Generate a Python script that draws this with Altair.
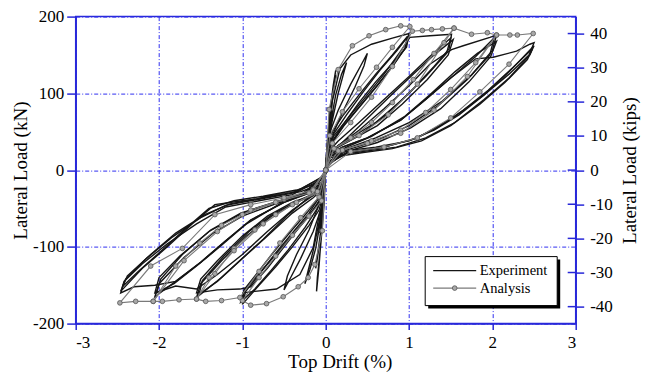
import altair as alt
import pandas as pd

KN_PER_KIP = 4.448
BLUE = "#2828D8"
GRID = "#3030F0"
FONT = "Liberation Serif"

x_ticks = [-3, -2, -1, 0, 1, 2, 3]
kn_ticks = [-200, -150, -100, -50, 0, 50, 100, 150, 200]
kip_ticks = [-40, -30, -20, -10, 0, 10, 20, 30, 40]

# ---------------- Experiment cycles (drift %, load kN) ----------------
e0_d = [0, 0.02, 0.04, 0.06, 0.04, 0.02, 0.0, -0.02, -0.04, -0.06, -0.04, -0.02, 0.0]
e0_l = [0, 22, 45, 62, 48, 26, 4, -24, -46, -64, -50, -26, 0]

e00_d = [0, 0.015, 0.035, 0.07, 0.05, 0.025, 0.0, -0.015, -0.035, -0.07, -0.05, -0.025, 0.0]
e00_l = [0, 18, 40, 78, 60, 30, 6, -20, -42, -82, -62, -30, 0]

e1_d = [0, 0.02, 0.05, 0.08, 0.11, 0.12, 0.10, 0.06, 0.03, 0.0, -0.02, -0.05, -0.08, -0.11, -0.12, -0.10, -0.06, -0.03, 0.0]
e1_l = [0, 28, 62, 95, 118, 124, 110, 78, 45, 8, -30, -66, -100, -122, -128, -112, -80, -44, 0]

e2_d = [0, 0.02, 0.05, 0.09, 0.12, 0.10, 0.06, 0.02, 0.0, -0.02, -0.05, -0.08, -0.11, -0.10, -0.06, -0.02, 0.0]
e2_l = [0, 35, 75, 110, 130, 115, 82, 38, 5, -35, -82, -125, -158, -140, -98, -45, 0]

e3_d = [0, 0.02, 0.06, 0.12, 0.19, 0.25, 0.22, 0.15, 0.08, 0.03, 0.0, -0.02, -0.06, -0.12, -0.19, -0.25, -0.22, -0.15, -0.08, -0.03, 0.0]
e3_l = [0, 28, 62, 98, 125, 140, 128, 100, 65, 35, 5, -28, -65, -102, -130, -148, -135, -105, -68, -36, 0]

e4_d = [0, 0.02, 0.06, 0.15, 0.3, 0.42, 0.5, 0.46, 0.35, 0.2, 0.08, 0.02, 0, -0.02, -0.06, -0.15, -0.3, -0.42, -0.5, -0.46, -0.35, -0.2, -0.08, -0.02, 0]
e4_l = [0, 25, 52, 78, 112, 136, 152, 136, 108, 75, 45, 20, 0, -25, -52, -80, -115, -140, -156, -138, -110, -78, -45, -20, 0]

e5_d = [0, 0.03, 0.08, 0.17, 0.3, 0.55, 0.8, 1.0, 0.97, 0.85, 0.6, 0.4, 0.2, 0.08, 0.02, 0, -0.03, -0.07, -0.15, -0.31, -0.59, -0.85, -0.99, -1.0, -0.97, -0.8, -0.6, -0.4, -0.2, -0.08, -0.02, 0]
e5_l = [0, 40, 90, 132, 150, 164, 172, 178, 160, 145, 115, 88, 58, 38, 15, 0, -45, -54, -101, -136, -155, -158, -160, -172, -155, -135, -110, -85, -60, -40, -15, 0]

e6_d = [0, 0.03, 0.08, 0.2, 0.4, 0.6, 0.8, 0.98, 0.95, 0.8, 0.6, 0.4, 0.2, 0.08, 0.02, 0, -0.03, -0.08, -0.2, -0.4, -0.6, -0.8, -1.0, -0.96, -0.8, -0.6, -0.4, -0.2, -0.08, -0.02, 0]
e6_l = [0, 32, 50, 70, 98, 125, 150, 174, 158, 135, 108, 82, 56, 36, 12, 0, -34, -52, -72, -100, -126, -150, -175, -158, -136, -108, -82, -56, -36, -12, 0]

e7_d = [0, 0.03, 0.1, 0.25, 0.45, 0.65, 0.85, 1.0, 0.96, 0.82, 0.62, 0.42, 0.22, 0.08, 0.02, 0, -0.03, -0.1, -0.25, -0.45, -0.65, -0.85, -1.02, -0.98, -0.82, -0.62, -0.42, -0.22, -0.08, -0.02, 0]
e7_l = [0, 28, 48, 72, 102, 130, 155, 176, 160, 138, 110, 84, 58, 36, 10, 0, -30, -50, -75, -104, -130, -155, -172, -156, -134, -106, -80, -55, -35, -10, 0]

e8_d = [0, 0.03, 0.1, 0.3, 0.5, 0.7, 0.9, 1.01, 1.25, 1.51, 1.48, 1.3, 1.0, 0.7, 0.4, 0.15, 0.03, 0, -0.03, -0.1, -0.3, -0.5, -0.7, -0.9, -1.03, -1.3, -1.55, -1.5, -1.3, -1.0, -0.7, -0.4, -0.15, -0.03, 0]
e8_l = [0, 28, 45, 72, 98, 125, 155, 173, 175, 177, 158, 135, 100, 70, 45, 32, 15, 0, -30, -45, -72, -100, -128, -152, -155, -156, -160, -142, -118, -86, -60, -42, -32, -15, 0]

e9_d = [0, 0.04, 0.15, 0.4, 0.7, 1.0, 1.25, 1.5, 1.45, 1.2, 0.9, 0.6, 0.3, 0.1, 0.02, 0, -0.04, -0.15, -0.4, -0.7, -1.0, -1.25, -1.55, -1.5, -1.25, -0.95, -0.65, -0.35, -0.1, -0.02, 0]
e9_l = [0, 25, 38, 62, 92, 122, 148, 172, 152, 122, 90, 62, 42, 28, 10, 0, -25, -36, -56, -86, -115, -140, -166, -148, -118, -86, -60, -42, -30, -10, 0]

e10_d = [0, 0.04, 0.2, 0.45, 0.75, 1.05, 1.3, 1.53, 1.47, 1.22, 0.92, 0.62, 0.32, 0.1, 0.02, 0, -0.04, -0.2, -0.45, -0.75, -1.05, -1.3, -1.52, -1.48, -1.22, -0.92, -0.62, -0.32, -0.1, -0.02, 0]
e10_l = [0, 22, 36, 62, 94, 125, 150, 170, 150, 118, 86, 58, 40, 27, 8, 0, -22, -35, -58, -90, -120, -145, -162, -144, -112, -80, -56, -40, -28, -8, 0]

e11_d = [0, 0.04, 0.15, 0.4, 0.7, 1.0, 1.25, 1.51, 1.65, 1.97, 2.05, 2.0, 1.75, 1.4, 1.0, 0.6, 0.25, 0.05, 0, -0.04, -0.15, -0.4, -0.7, -1.0, -1.3, -1.55, -1.8, -2.05, -2.0, -1.75, -1.4, -1.0, -0.6, -0.25, -0.05, 0]
e11_l = [0, 22, 32, 52, 80, 110, 138, 157, 162, 173, 176, 156, 124, 90, 62, 42, 28, 12, 0, -22, -33, -52, -80, -110, -136, -155, -151, -160, -140, -112, -80, -56, -42, -30, -12, 0]

e12_d = [0, 0.05, 0.2, 0.5, 0.9, 1.2, 1.5, 1.8, 2.02, 1.97, 1.7, 1.35, 1.0, 0.6, 0.25, 0.05, 0, -0.05, -0.2, -0.5, -0.9, -1.2, -1.5, -1.8, -2.05, -2.0, -1.7, -1.35, -1.0, -0.6, -0.25, -0.05, 0]
e12_l = [0, 20, 30, 42, 65, 92, 120, 148, 172, 150, 118, 84, 58, 38, 26, 10, 0, -20, -30, -42, -65, -92, -120, -145, -165, -148, -114, -82, -60, -44, -32, -12, 0]

e13_d = [0, 0.05, 0.25, 0.55, 0.95, 1.25, 1.55, 1.82, 2.05, 1.98, 1.72, 1.38, 1.02, 0.62, 0.28, 0.05, 0, -0.05, -0.25, -0.55, -0.95, -1.25, -1.55, -1.82, -2.03, -1.98, -1.72, -1.38, -1.02, -0.62, -0.28, -0.05, 0]
e13_l = [0, 18, 30, 44, 70, 98, 128, 152, 168, 148, 115, 80, 55, 36, 25, 9, 0, -18, -30, -44, -70, -98, -125, -148, -160, -142, -110, -78, -56, -42, -31, -10, 0]

e14_d = [0, 0.05, 0.2, 0.5, 0.9, 1.2, 1.5, 1.8, 2.01, 2.29, 2.45, 2.5, 2.44, 2.2, 1.9, 1.5, 1.1, 0.7, 0.3, 0.05, 0, -0.05, -0.2, -0.5, -0.9, -1.2, -1.5, -1.8, -2.05, -2.3, -2.46, -2.42, -2.2, -1.9, -1.55, -1.2, -0.8, -0.4, -0.05, 0]
e14_l = [0, 20, 30, 42, 65, 92, 120, 145, 147, 155, 164, 166, 150, 125, 98, 66, 42, 30, 24, 10, 0, -20, -30, -42, -65, -92, -120, -145, -150, -152, -160, -145, -122, -96, -70, -48, -40, -32, -12, 0]

e15_d = [0, 0.05, 0.3, 0.6, 1.0, 1.3, 1.6, 1.9, 2.2, 2.5, 2.45, 2.2, 1.9, 1.55, 1.2, 0.85, 0.5, 0.2, 0.05, 0, -0.05, -0.3, -0.7, -1.0, -1.33, -1.6, -1.9, -2.2, -2.46, -2.4, -2.15, -1.85, -1.5, -1.2, -0.8, -0.4, -0.05, 0]
e15_l = [0, 18, 26, 30, 38, 52, 72, 98, 128, 162, 150, 120, 92, 62, 42, 30, 25, 20, 8, 0, -18, -28, -36, -40, -45, -70, -100, -128, -158, -142, -115, -88, -62, -46, -38, -30, -10, 0]

e16_d = [0, 0.05, 0.35, 0.7, 1.05, 1.35, 1.65, 1.95, 2.25, 2.48, 2.42, 2.15, 1.85, 1.5, 1.15, 0.8, 0.45, 0.15, 0.04, 0, -0.05, -0.35, -0.75, -1.1, -1.4, -1.7, -2.0, -2.25, -2.44, -2.38, -2.1, -1.8, -1.45, -1.15, -0.75, -0.35, -0.05, 0]
e16_l = [0, 16, 24, 30, 40, 56, 78, 104, 134, 158, 144, 114, 86, 58, 38, 28, 23, 18, 7, 0, -16, -26, -34, -40, -50, -78, -108, -132, -152, -138, -110, -82, -58, -44, -36, -28, -9, 0]

# ---------------- Analysis cycles (drift %, load kN) ----------------
a1_d = [0, 0.04, 0.15, 0.32, 0.52, 0.72, 0.9, 1.01, 0.8, 0.61, 0.4, 0.2, 0.05, 0, -0.04, -0.13, -0.21, -0.33, -0.51, -0.71, -0.9, -1.0, -0.8, -0.6, -0.4, -0.2, -0.05, 0]
a1_l = [0, 79, 131, 162, 175, 183, 188, 187, 160, 134, 106, 76, 45, 0, -79, -123, -140, -152, -165, -174, -176, -170, -140, -112, -85, -60, -40, 0]

a2_d = [0, 0.08, 0.3, 0.55, 0.8, 1.04, 1.16, 1.27, 1.4, 1.54, 1.3, 1.05, 0.8, 0.55, 0.3, 0.1, 0, -0.08, -0.3, -0.55, -0.8, -1.03, -1.25, -1.44, -1.55, -1.33, -1.1, -0.85, -0.6, -0.35, -0.1, 0]
a2_l = [0, 35, 62, 95, 135, 181, 182, 183, 184, 185, 152, 118, 88, 62, 42, 28, 0, -35, -62, -95, -132, -166, -170, -171, -168, -135, -102, -78, -58, -42, -30, 0]

a3_d = [0, 0.1, 0.4, 0.75, 1.1, 1.42, 1.54, 1.75, 1.94, 2.05, 1.8, 1.5, 1.2, 0.9, 0.55, 0.2, 0, -0.1, -0.4, -0.75, -1.1, -1.4, -1.55, -1.76, -1.96, -2.07, -1.8, -1.51, -1.25, -1.0, -0.6, -0.2, 0]
a3_l = [0, 28, 45, 72, 112, 166, 185, 177, 179, 176, 140, 105, 75, 52, 38, 26, 0, -28, -45, -70, -105, -140, -168, -169, -171, -171, -125, -95, -72, -58, -42, -30, 0]

a4_d = [0, 0.15, 0.5, 0.9, 1.3, 1.7, 2.05, 2.21, 2.3, 2.49, 2.2, 1.85, 1.5, 1.1, 0.7, 0.3, 0, -0.15, -0.5, -0.9, -1.3, -1.7, -2.07, -2.28, -2.47, -2.1, -1.72, -1.33, -0.9, -0.5, -0.15, 0]
a4_l = [0, 25, 35, 48, 78, 122, 176, 176, 176, 178, 138, 102, 68, 42, 30, 24, 0, -25, -38, -52, -80, -118, -171, -171, -173, -125, -102, -58, -45, -36, -26, 0]

exp_cycles = [
    ("e0", e0_d, e0_l), ("e00", e00_d, e00_l),
    ("e1", e1_d, e1_l), ("e2", e2_d, e2_l), ("e3", e3_d, e3_l), ("e4", e4_d, e4_l),
    ("e5", e5_d, e5_l), ("e6", e6_d, e6_l), ("e7", e7_d, e7_l), ("e8", e8_d, e8_l),
    ("e9", e9_d, e9_l), ("e10", e10_d, e10_l), ("e11", e11_d, e11_l), ("e12", e12_d, e12_l),
    ("e13", e13_d, e13_l), ("e14", e14_d, e14_l), ("e15", e15_d, e15_l), ("e16", e16_d, e16_l),
]
ana_cycles = [("a1", a1_d, a1_l), ("a2", a2_d, a2_l), ("a3", a3_d, a3_l), ("a4", a4_d, a4_l)]


def to_frame(cycles):
    rows = []
    for name, d, l in cycles:
        for i, (x, y) in enumerate(zip(d, l)):
            rows.append({"cycle": name, "i": i, "drift": x, "load": y})
    return pd.DataFrame(rows)


exp_df = to_frame(exp_cycles)
ana_df = to_frame(ana_cycles)
kips_df = pd.DataFrame({"kips": kip_ticks})

W, H = 500, 307
LBL = "'' + datum.value"

x_enc = alt.X("drift:Q", scale=alt.Scale(domain=[-3, 3], nice=False, zero=False),
              axis=alt.Axis(values=x_ticks, title="Top Drift (%)", tickSize=6, labelPadding=5,
                            titlePadding=2, titleX=264, labelExpr=LBL))
y_enc = alt.Y("load:Q", scale=alt.Scale(domain=[-200, 200], nice=False),
              axis=alt.Axis(values=kn_ticks, title="Lateral Load (kN)", tickSize=9, labelPadding=3,
                            titlePadding=2, labelExpr=LBL))

exp_layer = alt.Chart(exp_df).mark_line(color="#151515", strokeWidth=1.4).encode(
    x=x_enc, y=y_enc, detail="cycle:N", order="i:Q")

ana_line = alt.Chart(ana_df).mark_line(color="#7a7a7a", strokeWidth=1.1).encode(
    x=alt.X("drift:Q"), y=alt.Y("load:Q"), detail="cycle:N", order="i:Q")

ana_pts = alt.Chart(ana_df).mark_point(shape="circle", filled=True, fill="#a8a8a8", stroke="#555555",
                                       strokeWidth=0.8, size=22, opacity=1).encode(
    x=alt.X("drift:Q"), y=alt.Y("load:Q"))

one = alt.Data(values=[{"k": 0}])
leg_shadow = alt.Chart(one).mark_rect(color="black").encode(
    x=alt.value(352.5), x2=alt.value(484.5), y=alt.value(243), y2=alt.value(292))
leg_box = alt.Chart(one).mark_rect(fill="white", stroke="black", strokeWidth=1).encode(
    x=alt.value(349.5), x2=alt.value(481.5), y=alt.value(240), y2=alt.value(289))
leg_exp_line = alt.Chart(one).mark_rule(color="#151515", strokeWidth=1.3).encode(
    x=alt.value(357.5), x2=alt.value(400.5), y=alt.value(254))
leg_ana_line = alt.Chart(one).mark_rule(color="#7a7a7a", strokeWidth=1.1).encode(
    x=alt.value(357.5), x2=alt.value(400.5), y=alt.value(271.5))
leg_ana_pt = alt.Chart(one).mark_point(shape="circle", filled=True, fill="#a8a8a8", stroke="#555555",
                                       strokeWidth=0.8, size=22, opacity=1).encode(
    x=alt.value(379), y=alt.value(271.5))
leg_exp_txt = alt.Chart(one).mark_text(font=FONT, fontSize=14.5, align="left", baseline="middle",
                                       color="black").encode(
    x=alt.value(404), y=alt.value(254.5), text=alt.value("Experiment"))
leg_ana_txt = alt.Chart(one).mark_text(font=FONT, fontSize=14.5, align="left", baseline="middle",
                                       color="black").encode(
    x=alt.value(404), y=alt.value(272), text=alt.value("Analysis"))

base = alt.layer(exp_layer, ana_line, ana_pts, leg_shadow, leg_box, leg_exp_line, leg_ana_line,
                 leg_ana_pt, leg_exp_txt, leg_ana_txt)

kip_lim = 200 / KN_PER_KIP
kips_layer = alt.Chart(kips_df).mark_rule(color=BLUE, strokeWidth=1.5).encode(
    y=alt.Y("kips:Q", scale=alt.Scale(domain=[-kip_lim, kip_lim], nice=False),
            axis=alt.Axis(orient="right", values=kip_ticks, title="Lateral Load (kips)", grid=False,
                          tickSize=8, labelPadding=6, titlePadding=27, titleAngle=270,
                          labelExpr=LBL)),
    x=alt.value(W - 8), x2=alt.value(W))

chart = alt.layer(base, kips_layer).resolve_scale(y="independent").properties(
    width=W, height=H,
    autosize=alt.AutoSizeParams(type="none"),
    padding={"left": 67.7, "top": 8.6, "right": 67.3, "bottom": 49.4},
).configure_axis(
    labelFont=FONT, titleFont=FONT, labelFontSize=17, titleFontSize=19, titleFontWeight="normal",
    labelColor="black", titleColor="black", domainColor=BLUE, domainWidth=1.5, tickColor=BLUE,
    tickWidth=1.5, gridColor=GRID, gridDash=[4, 2, 1, 2], gridWidth=1, gridOpacity=1,
).configure_view(stroke=BLUE, strokeWidth=1.5)

chart.save("out.html", embed_options={"renderer": "svg", "actions": False})
